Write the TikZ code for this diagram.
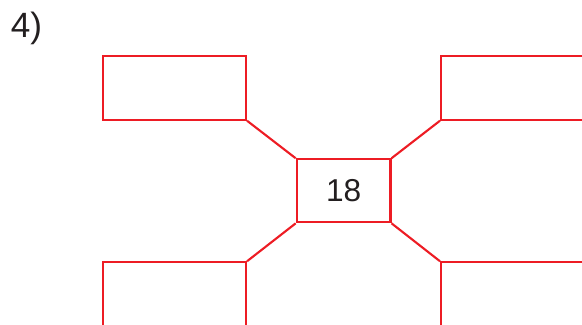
\documentclass[tikz,border=0pt]{standalone}
\usepackage{fontspec}
\setmainfont{Liberation Sans}
\definecolor{boxred}{RGB}{237,28,36}
\definecolor{inkgray}{RGB}{35,31,32}
\begin{document}
\begin{tikzpicture}[
  cell/.style={draw=boxred, line width=1.2pt, rectangle, inner sep=0pt,
    minimum width=2.86cm, minimum height=1.274cm},
  hub/.style={cell, minimum width=1.876cm, minimum height=1.26cm},
  link/.style={draw=boxred, line width=1.2pt},
  lbl/.style={font=\fontsize{18}{20}\selectfont, text=inkgray}
]
\useasboundingbox (0, 0) rectangle (11.64, 6.5);
\node[lbl, font=\fontsize{20}{22}\selectfont, anchor=base west, inner sep=0pt]
  (num) at (0.21, 5.754) {4)};
\node[hub, lbl] (c) at (6.872, 2.684) {18};
\node[cell] (tl) at (3.49, 4.743) {};
\node[cell] (tr) at (10.25, 4.743) {};
\node[cell] (bl) at (3.49, 0.617) {};
\node[cell] (br) at (10.25, 0.617) {};
\draw[link] (tl.south east) -- (c.north west);
\draw[link] (tr.south west) -- (c.north east);
\draw[link] (bl.north east) -- (c.south west);
\draw[link] (br.north west) -- (c.south east);
\end{tikzpicture}
\end{document}
